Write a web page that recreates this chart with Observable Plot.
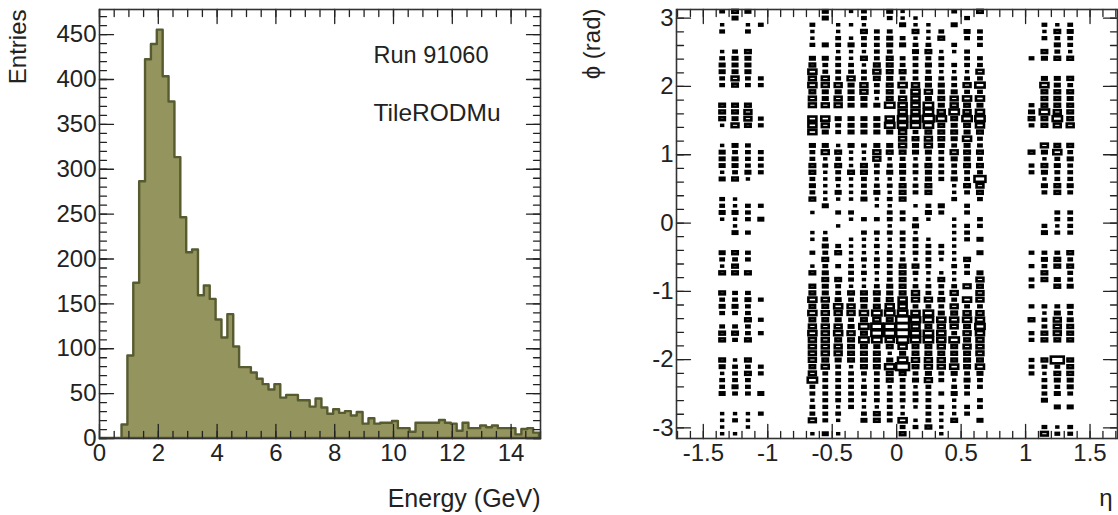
<!DOCTYPE html>
<html>
<head>
<meta charset="utf-8">
<script src="https://cdn.jsdelivr.net/npm/d3@7"></script>
<script src="https://cdn.jsdelivr.net/npm/@observablehq/plot@0.6"></script>
<style>
html,body{margin:0;padding:0;background:#fff}
#row{display:flex;width:1118px;height:515px;overflow:hidden}
svg{display:block;flex:none}
</style>
</head>
<body>
<div id="row"></div>
<script>
// ---- left panel data: entries per 0.2 GeV bin
const energyBinWidth = 0.2;
const energyCounts = [0,0,0,0,
  15,92,173,286,422,439,455,403,375,313,
  246,207,210,159,170,155,132,112,138,102,
  79,79,73,66,60,54,60,45,48,48,
  42,42,35,44,34,27,32,28,30,25,
  29,16,22,16,17,17,19,11,11,7,
  17,17,17,17,20,17,16,8,17,11,
  11,14,12,14,11,11,11,4,10,11,6];
const energyTicks = [0,2,4,6,8,10,12,14];
const energyMinor = d3.range(0,15.01,0.5);
const entryTicks = [0,50,100,150,200,250,300,350,400,450];
const entryMinor = d3.range(0,478,10);

// ---- right panel data: box size class (0 empty, 1-9, a = full bin) per phi row,
// top row (phi near +pi) first, one string per eta column
const etaCenters = [-1.35,-1.25,-1.15,-1.05,-0.65,-0.55,-0.45,-0.35,-0.25,-0.15,-0.05,
  0.05,0.15,0.25,0.35,0.45,0.55,0.65,1.05,1.15,1.25,1.35];
const boxColumns = [
 "3023002344"+"3300555200"+"2444240033"+"420"+"0004325005"+"3430355005"+"4233400222"+"2",
 "5400003444"+"6500554600"+"4344350022"+"422"+"4005355003"+"3430353002"+"3334300230"+"2",
 "4023005444"+"3300566500"+"3333420003"+"330"+"3003305003"+"4335335005"+"3533300222"+"0",
 "0030000000"+"3300003300"+"0333300003"+"040"+"0000000000"+"3003030000"+"3300400300"+"0",
 "0032230457"+"6756607770"+"4335534350"+"200"+"2203025055"+"7575676666"+"5683323360"+"2",
 "4400040433"+"6644607640"+"4623222224"+"000"+"2343534544"+"6565666665"+"6333333330"+"4",
 "0022332333"+"3646604330"+"2535332420"+"302"+"0035030533"+"4764675664"+"3333332320"+"2",
 "2020242233"+"6444404440"+"4222522220"+"320"+"0222233325"+"3663465555"+"2333333000"+"0",
 "3325332523"+"3664404440"+"3225533340"+"030"+"3222323225"+"5475858555"+"5323322340"+"0",
 "0003333356"+"5332404440"+"4663323422"+"030"+"3232332235"+"4586998455"+"5333332550"+"0",
 "4303443555"+"4555807840"+"4523423232"+"332"+"3223333344"+"5785997524"+"8552333330"+"0",
 "2240340335"+"3736778866"+"6534435550"+"330"+"3332355555"+"778aaa9748"+"a533332273"+"5",
 "0225234333"+"3677778835"+"4423323302"+"034"+"2333253236"+"6378788556"+"5342332023"+"0",
 "0022235343"+"4464889856"+"6435445503"+"420"+"0233332233"+"6388588556"+"6463333335"+"0",
 "0003502332"+"3445468555"+"4333330004"+"300"+"0033202533"+"5347677656"+"6330303222"+"2",
 "3040032032"+"3346685454"+"3643342230"+"022"+"2222232236"+"3657638555"+"7423422250"+"0",
 "0304303332"+"3637568547"+"4545335303"+"303"+"3300533060"+"7367565655"+"5343303300"+"0",
 "5003330336"+"3837478753"+"3535396530"+"033"+"0404004656"+"6367876665"+"7433033040"+"0",
 "0000000300"+"0000345300"+"0503300000"+"000"+"0003030330"+"0305033003"+"3300000000"+"0",
 "0032305400"+"4755585500"+"6425424300"+"003"+"4003435500"+"0323355005"+"3233340003"+"6",
 "0025343500"+"4455568600"+"5734335500"+"332"+"3003550450"+"034666500a"+"3543404002"+"3",
 "0034332500"+"5354555600"+"5343334300"+"333"+"3005353340"+"0434555005"+"5544304003"+"3"
];
const boxScale = {1:0.1,2:0.14,3:0.25,4:0.35,5:0.42,6:0.53,7:0.62,8:0.72,9:0.85,a:1};
const etaBinWidth = 0.1;
const phiRows = 64;
const etaTicks = [-1.5,-1,-0.5,0,0.5,1,1.5];
const etaMinor = d3.range(-1.7,1.71,0.1).map(d=>+d.toFixed(1));
const phiTicks = [-3,-2,-1,0,1,2,3];
const phiMinor = d3.range(-3,3.01,0.2).map(d=>+d.toFixed(1));

const phiStep = 2*Math.PI/phiRows;
const boxes = [];
boxColumns.forEach((col,c)=>{
  for(let i=0;i<col.length;i++){
    if(col[i]==="0") continue;
    boxes.push({eta:etaCenters[c], phi:Math.PI-(i+0.5)*phiStep, s:boxScale[col[i]]});
  }
});

// ---- ROOT-style inward ticks built from custom vector shapes
const up   ={draw(c,l){c.moveTo(0,0);c.lineTo(0,-l);}};
const down ={draw(c,l){c.moveTo(0,0);c.lineTo(0,l);}};
const right={draw(c,l){c.moveTo(0,0);c.lineTo(l,0);}};
const left ={draw(c,l){c.moveTo(0,0);c.lineTo(-l,0);}};
const tickColor="#222";
function frameTicks(xMaj,xMin,yMaj,yMin){
  const t=(fn,data,anchor,shape,length,w)=>fn(data,{frameAnchor:anchor,shape,length,anchor:"start",stroke:tickColor,strokeWidth:w});
  return [
    t(Plot.vectorX,xMin,"bottom",up,7,1.3), t(Plot.vectorX,xMaj,"bottom",up,14,1.3),
    t(Plot.vectorX,xMin,"top",down,7,1.3), t(Plot.vectorX,xMaj,"top",down,14,1.3),
    t(Plot.vectorY,yMin,"left",right,7,1.3), t(Plot.vectorY,yMaj,"left",right,14,1.3),
    t(Plot.vectorY,yMin,"right",left,7,1.3), t(Plot.vectorY,yMaj,"right",left,14,1.3)
  ];
}
const fontFamily='"Liberation Sans",Arial,sans-serif';
const labelColor="#222";

const edges = energyCounts.map((c,i)=>({e:i*energyBinWidth,c}));
edges.push({e:energyCounts.length*energyBinWidth,c:energyCounts[energyCounts.length-1]});

const leftPlot = Plot.plot({
  width:559,height:515,marginLeft:99,marginRight:19,marginTop:9,marginBottom:77,
  style:{fontFamily,background:"#fff",color:labelColor},
  x:{domain:[0,15],axis:null},
  y:{domain:[0,478],axis:null},
  marks:[
    Plot.areaY(edges,{x:"e",y:"c",curve:"step-after",fill:"#94945f",stroke:"#575b30",strokeWidth:2.4,dx:-1,clip:true}),
    ...frameTicks(energyTicks,energyMinor,entryTicks,entryMinor),
    Plot.frame({stroke:"#333",strokeWidth:1.6}),
    Plot.axisX({anchor:"bottom",ticks:energyTicks,tickSize:0,tickPadding:5,fontSize:24,tickFormat:d=>String(d),label:null}),
    Plot.axisY({anchor:"left",ticks:entryTicks,tickSize:0,tickPadding:3,fontSize:24,tickFormat:d=>String(d),label:null}),
    Plot.text(["Energy (GeV)"],{frameAnchor:"bottom-right",dy:60,textAnchor:"end",lineAnchor:"middle",fontSize:25,fill:labelColor}),
    Plot.text(["Entries"],{frameAnchor:"top-left",rotate:-90,dx:-91,dy:0,textAnchor:"end",fontSize:24,fill:labelColor}),
    Plot.text(["Run 91060"],{x:[9.32],y:[427],textAnchor:"start",fontSize:23.5,fill:labelColor}),
    Plot.text(["TileRODMu"],{x:[9.32],y:[362],textAnchor:"start",fontSize:24.5,fill:labelColor})
  ]
});

const rightPlot = Plot.plot({
  width:559,height:515,marginLeft:117,marginRight:1,marginTop:9,marginBottom:77,
  style:{fontFamily,background:"#fff",color:labelColor},
  x:{domain:[-1.708,1.713],axis:null},
  y:{domain:[-3.155,3.127],axis:null},
  marks:[
    Plot.rect(boxes,{
      x1:d=>d.eta-d.s*etaBinWidth/2, x2:d=>d.eta+d.s*etaBinWidth/2,
      y1:d=>d.phi-d.s*phiStep/2, y2:d=>d.phi+d.s*phiStep/2,
      stroke:"#000",strokeWidth:2.6,fill:"none"}),
    ...frameTicks(etaTicks,etaMinor,phiTicks,phiMinor),
    Plot.frame({stroke:"#333",strokeWidth:1.6}),
    Plot.axisX({anchor:"bottom",ticks:etaTicks,tickSize:0,tickPadding:5,fontSize:24,tickFormat:d=>String(d),label:null}),
    Plot.axisY({anchor:"left",ticks:phiTicks,tickSize:0,tickPadding:3,fontSize:24,tickFormat:d=>String(d),label:null}),
    Plot.text(["η"],{frameAnchor:"bottom-right",dy:60,dx:-5,textAnchor:"end",lineAnchor:"middle",fontSize:24,fill:labelColor}),
    Plot.text(["ϕ (rad)"],{frameAnchor:"top-left",rotate:-90,dx:-94,dy:-1,textAnchor:"end",fontSize:24,fill:labelColor})
  ]
});

document.getElementById("row").append(leftPlot,rightPlot);
</script>
</body>
</html>
